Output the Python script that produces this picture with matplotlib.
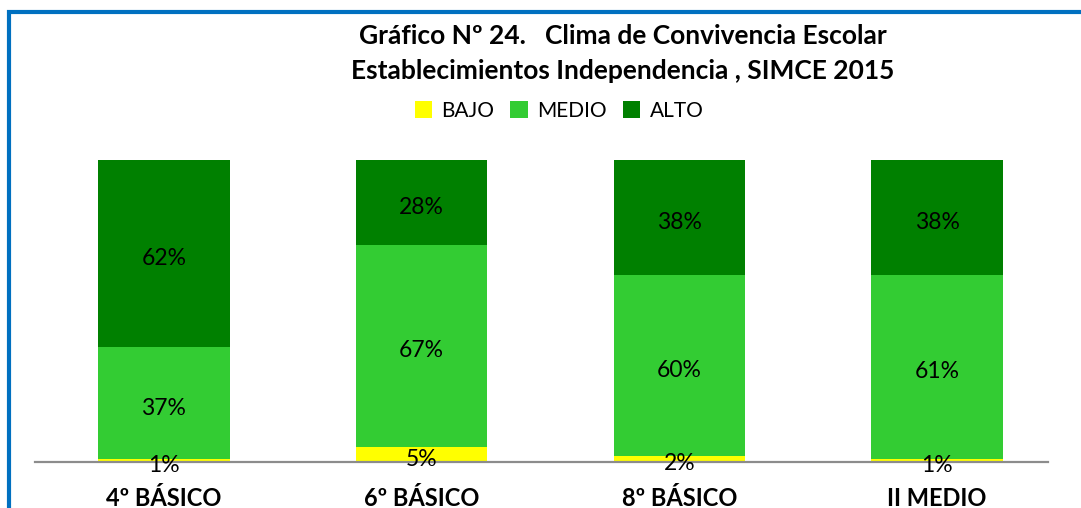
import matplotlib
matplotlib.use("Agg")
import matplotlib.pyplot as plt
from matplotlib.patches import Rectangle
import matplotlib.transforms as mtransforms
import numpy as np

categories = ["4º BÁSICO", "6º BÁSICO", "8º BÁSICO", "II MEDIO"]
series_names = ["BAJO", "MEDIO", "ALTO"]
bajo = [1, 5, 2, 1]
medio = [37, 67, 60, 61]
alto = [62, 28, 38, 38]
colors = ["#FFFF00", "#33CC33", "#008000"]

title_lines = ["Gráfico Nº 24.   Clima de Convivencia Escolar",
               "Establecimientos Independencia , SIMCE 2015"]

FONT = "Lato"
plt.rcParams["font.family"] = [FONT, "DejaVu Sans"]

W, H = 1081, 508
fig = plt.figure(figsize=(W / 100, H / 100), dpi=100)
fig.patch.set_facecolor("white")

def fx(px):
    return px / W

def fy(py):
    return 1 - py / H

ax_left, ax_right, ax_top, ax_bot = 35, 1048, 160, 462
ax = fig.add_axes([fx(ax_left), fy(ax_bot), fx(ax_right - ax_left), (ax_bot - ax_top) / H])

x = np.arange(len(categories))
width = 0.51
series = [bajo, medio, alto]
bottom = np.zeros(len(categories))
lbl_off = mtransforms.ScaledTranslation(0, -5 / 100, fig.dpi_scale_trans)
for name, vals, col in zip(series_names, series, colors):
    vals = np.array(vals, dtype=float)
    ax.bar(x, vals, width, bottom=bottom, color=col, label=name, edgecolor="none", zorder=2)
    for xi, b, v in zip(x, bottom, vals):
        ax.text(xi, b + v / 2, f"{int(v)}%", ha="center", va="center", fontsize=16.5,
                color="#000000", zorder=4, transform=ax.transData + lbl_off)
    bottom += vals

ax.set_xlim(-0.5, 3.43)
ax.set_ylim(0, 100)
for s in ["top", "right", "left"]:
    ax.spines[s].set_visible(False)
ax.spines["bottom"].set_color("#8C8C8C")
ax.spines["bottom"].set_linewidth(1.6)
ax.spines["bottom"].set_zorder(3)
ax.set_yticks([])
ax.set_xticks([])
ax.patch.set_alpha(0)

trans = mtransforms.blended_transform_factory(ax.transData, fig.transFigure)
for xi, c in zip(x, categories):
    ax.text(xi, fy(506), c, transform=trans, ha="center", va="baseline", fontsize=17,
            fontweight="bold", clip_on=False)

fig.text(fx(623), fy(36), title_lines[0], ha="center", va="center", fontsize=19, fontweight="bold")
fig.text(fx(623), fy(71), title_lines[1], ha="center", va="center", fontsize=19, fontweight="bold")

leg = fig.legend(loc="center", bbox_to_anchor=(fx(559), fy(111)), ncol=3, frameon=False, fontsize=15,
                 handlelength=0.85, handleheight=0.85, handletextpad=0.45, columnspacing=0.75, borderpad=0)

fig.patches.append(Rectangle((fx(9), fy(560)), fx(1200), (560 - 12) / H, transform=fig.transFigure,
                             fill=False, edgecolor="#0070C0", linewidth=3, zorder=10))

fig.savefig("out.png", dpi=100)
